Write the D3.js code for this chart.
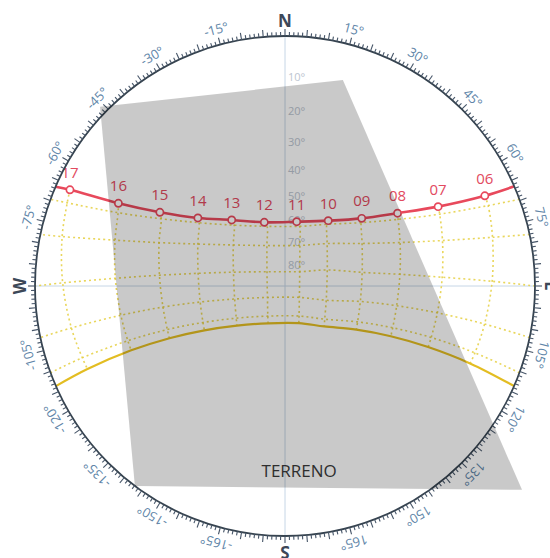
<!DOCTYPE html>
<html>
<head>
<meta charset="utf-8">
<script src="https://cdn.jsdelivr.net/npm/d3@7"></script>
<style>
  body { margin: 0; background: #fff; overflow: hidden; }
  text { font-family: "Open Sans", "Noto Sans", sans-serif; }
</style>
</head>
<body>
<svg id="chart" width="550" height="558"></svg>
<script>
// Clock hours marked on the solar path
const hours = ["06", "07", "08", "09", "10", "11", "12", "13", "14", "15", "16", "17"];

// June solstice path (azimuth from north, altitude in degrees) at each hour
const juneAz  = [65.7, 62.6, 57.1, 48.6, 33.5, 10.3, -18.0, -38.9, -52.0, -59.5, -63.6, -65.9];
const juneAlt = [7.5, 20.8, 33.6, 45.5, 55.2, 60.7, 60.0, 52.5, 42.3, 29.7, 16.7, 3.4];
const juneRiseSet = [66.5, -66.6];

// Intermediate date lines (May/Jul, Apr/Aug, Mar/Sep, Feb/Oct, Jan/Nov)
const mayJulAz  = [68.4, 65.1, 59.5, 50.2, 34.1, 13.8, -16.7, -39.9, -53.6, -61.5, -66.3, -69.1];
const mayJulAlt = [7.7, 21.4, 34.6, 46.8, 56.8, 62.4, 62.0, 54.8, 43.8, 31.2, 17.8, 4.0];
const mayJulRiseSet = [69.7, -69.7];

const aprAugAz  = [76.8, 73.9, 69.3, 61.1, 44.8, 20.1, -24.1, -51.6, -64.3, -71.0, -74.9, -77.5];
const aprAugAlt = [9.1, 23.5, 37.6, 51.2, 63.1, 70.4, 69.9, 60.4, 47.7, 33.9, 19.7, 5.2];
const aprAugRiseSet = [78.1, -78.1];

const marSepAz  = [88.7, 86.8, 84.2, 80.0, 69.2, 45.8, -51.6, -75.0, -81.7, -85.1, -87.4, -89.2];
const marSepAlt = [10.7, 25.6, 40.4, 55.2, 69.5, 80.6, 79.5, 65.9, 51.3, 36.5, 21.6, 6.7];
const marSepRiseSet = [90.0, -90.0];

const febOctAz  = [100.8, 100.0, 100.0, 101.6, 109.1, 128.5, -123.1, -104.5, -100.7, -99.8, -100.1, -101.1];
const febOctAlt = [11.8, 26.5, 41.2, 55.8, 70.2, 81.6, 80.4, 66.5, 51.9, 37.3, 22.6, 7.9];
const febOctRiseSet = [101.9, -101.9];

const janNovAz  = [109.4, 109.4, 111.2, 116.3, 129.9, 154.9, -150.3, -123.4, -114.0, -110.3, -109.2, -109.5];
const janNovAlt = [12.3, 26.4, 40.4, 54.1, 66.6, 74.9, 74.2, 63.7, 50.5, 36.7, 22.7, 8.6];
const janNovRiseSet = [110.3, -110.3];

// December solstice path
const decAz  = [112.7, 113.1, 115.4, 121.5, 135.9, 159.6, -155.6, -129.5, -118.8, -114.3, -112.7, -112.8];
const decAlt = [12.5, 26.2, 39.8, 53.0, 64.6, 72.0, 71.4, 62.0, 49.6, 36.2, 22.6, 8.8];
const decRiseSet = [113.6, -113.6];

// Altitude rings labelled along the north axis
const altTicks = [10, 20, 30, 40, 50, 60, 70, 80];

// Compass labels every 15 degrees
const azTicks = [-165, -150, -135, -120, -105, -90, -75, -60, -45, -30, -15, 0,
                 15, 30, 45, 60, 75, 90, 105, 120, 135, 150, 165, 180];
const cardinals = { "0": "N", "90": "E", "180": "S", "-90": "W" };

// Terrain obstruction outline (azimuth, altitude) and its label
const terrainAz  = [-45.9, 15.7, 130.7, -143.1];
const terrainAlt = [-1.7, 8.9, -12.7, 0.0];
const terrainLabel = { text: "TERRENO", az: 175.6, alt: 17.1 };

// ---------------------------------------------------------------
const cx = 285, cy = 286, R = 250;
const svg = d3.select("#chart");

// Stereographic sky projection with the zenith at the centre, north up
const proj = d3.geoStereographic()
  .scale(R)
  .translate([cx, cy])
  .rotate([0, -90]);
const P = (az, alt) => proj([180 - az, alt]);

const smooth = d3.line().curve(d3.curveCatmullRom.alpha(0.5));

// Light cross axes
const axes = svg.append("g").attr("stroke", "#c6d6e6").attr("stroke-width", 1);
[[0, 180], [-90, 90]].forEach(([a, b]) => {
  const p1 = P(a, 0), p2 = P(b, 0);
  axes.append("line").attr("x1", p1[0]).attr("y1", p1[1]).attr("x2", p2[0]).attr("y2", p2[1]);
});

// Altitude labels
svg.append("g").selectAll("text").data(altTicks).join("text")
  .attr("x", d => P(0, d)[0] + 3)
  .attr("y", d => P(0, d)[1])
  .attr("dominant-baseline", "central")
  .attr("font-size", 11)
  .attr("fill", "#bcc5d0")
  .text(d => d + "°");

// Date lines and hour lines (dotted)
function pathPoints(az, alt, rs) {
  return [P(rs[0], 0), ...az.map((a, i) => P(a, alt[i])), P(rs[1], 0)];
}
const dotted = [
  [mayJulAz, mayJulAlt, mayJulRiseSet],
  [aprAugAz, aprAugAlt, aprAugRiseSet],
  [marSepAz, marSepAlt, marSepRiseSet],
  [febOctAz, febOctAlt, febOctRiseSet],
  [janNovAz, janNovAlt, janNovRiseSet]
];
const grid = svg.append("g")
  .attr("fill", "none")
  .attr("stroke", "#e5cf3e")
  .attr("stroke-width", 1.6)
  .attr("stroke-dasharray", "2 3")
  .attr("stroke-opacity", 0.85);

dotted.forEach(([az, alt, rs]) => {
  grid.append("path").attr("d", smooth(pathPoints(az, alt, rs)));
});

const allLines = [[juneAz, juneAlt], [mayJulAz, mayJulAlt], [aprAugAz, aprAugAlt],
                  [marSepAz, marSepAlt], [febOctAz, febOctAlt], [janNovAz, janNovAlt],
                  [decAz, decAlt]];
hours.forEach((h, i) => {
  const pts = allLines.map(([az, alt]) => P(az[i], alt[i]));
  grid.append("path").attr("d", smooth(pts));
});

// December solstice path (solid yellow)
svg.append("path")
  .attr("d", smooth(pathPoints(decAz, decAlt, decRiseSet)))
  .attr("fill", "none")
  .attr("stroke", "#e3bd22")
  .attr("stroke-width", 2.2);

// June solstice path (red) with hour markers
const red = "#e8495c";
svg.append("path")
  .attr("d", smooth(pathPoints(juneAz, juneAlt, juneRiseSet)))
  .attr("fill", "none")
  .attr("stroke", red)
  .attr("stroke-width", 2.6);

const hourPts = hours.map((h, i) => ({ h, p: P(juneAz[i], juneAlt[i]) }));
svg.append("g").selectAll("circle").data(hourPts).join("circle")
  .attr("cx", d => d.p[0]).attr("cy", d => d.p[1]).attr("r", 3.6)
  .attr("fill", "#fff").attr("stroke", red).attr("stroke-width", 1.7);

svg.append("g").selectAll("text").data(hourPts).join("text")
  .attr("x", d => d.p[0]).attr("y", d => d.p[1] - 12)
  .attr("text-anchor", "middle")
  .attr("font-size", 15)
  .attr("fill", "#e24a60")
  .text(d => d.h);

// Horizon ring with degree ticks
const ring = svg.append("g");
ring.append("circle").attr("cx", cx).attr("cy", cy).attr("r", R)
  .attr("fill", "none").attr("stroke", "#36434f").attr("stroke-width", 1.8);

ring.append("g").selectAll("line").data(d3.range(0, 360, 1)).join("line")
  .attr("transform", d => `translate(${cx},${cy}) rotate(${d})`)
  .attr("x1", 0).attr("x2", 0)
  .attr("y1", -R)
  .attr("y2", d => -(R + (d % 5 === 0 ? 7 : 4)))
  .attr("stroke", "#465568")
  .attr("stroke-width", 1.1);

ring.append("g").selectAll("text").data(azTicks).join("text")
  .attr("transform", d => `translate(${cx},${cy}) rotate(${d}) translate(0,${-266})`)
  .attr("text-anchor", "middle")
  .attr("dominant-baseline", "central")
  .attr("font-size", d => cardinals[d] ? 17 : 13)
  .attr("font-weight", d => cardinals[d] ? 700 : 400)
  .attr("fill", d => cardinals[d] ? "#3d4858" : "#6085a8")
  .text(d => cardinals[d] || d + "°");

// Terrain obstruction overlay
svg.append("path")
  .attr("d", d3.line().curve(d3.curveLinearClosed)(terrainAz.map((a, i) => P(a, terrainAlt[i]))))
  .attr("fill", "#000")
  .attr("fill-opacity", 0.21);

const tl = P(terrainLabel.az, terrainLabel.alt);
svg.append("text")
  .attr("x", tl[0]).attr("y", tl[1])
  .attr("text-anchor", "middle")
  .attr("dominant-baseline", "central")
  .attr("font-size", 17)
  .attr("fill", "#2e2e2e")
  .text(terrainLabel.text);
</script>
</body>
</html>
